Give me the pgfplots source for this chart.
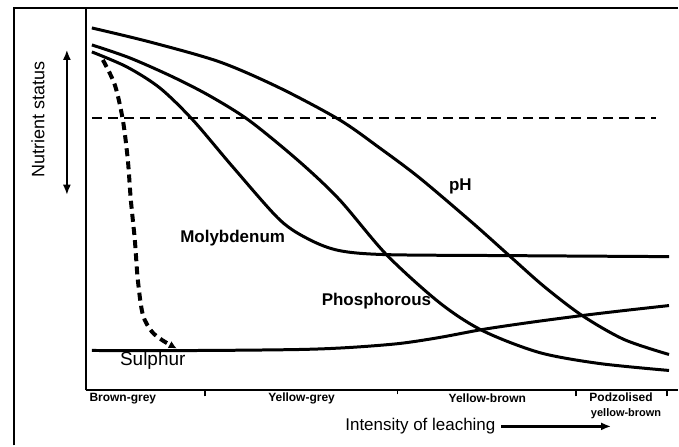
\documentclass[border=0pt]{standalone}
\usepackage{pgfplots}
\pgfplotsset{compat=1.18}
\usepackage{fontspec}
\setmainfont{Liberation Sans}
\usetikzlibrary{arrows.meta}

\pgfplotstableread{
x y
92 418
150 404
220 384
280 358
340 326
380 298
420 268
473 223
510 190
545 159
583 130
625 106
670 91
}\pH
\pgfplotstableread{
x y
92 401
130 388
173 369
210 350
250 325
300 284
340 246
387 191
440 143
483 115
540 93
600 82
670 75
}\phos
\pgfplotstableread{
x y
92 394
127 379
160 358
193 326
233 279
280 226
310 206
340 195
387 191
510 190
670 189
}\moly
\pgfplotstableread{
x y
103 386
115 361
123 326
128 286
131 246
135 206
138 166
143 131
152 114
163 105
177 97
}\sulfdrop
\pgfplotstableread{
x y
92 95
200 95
300 96
350 98
400 102
440 108
483 116
530 123
583 130
625 135
670 140
}\sulf

\pgfplotsset{curve/.style={black, line width=1.5pt, smooth, no markers}}

\begin{document}
\begin{tikzpicture}
\begin{axis}[
  scale only axis,
  width=296.5pt, height=191.5pt,
  xmin=86, xmax=679, ymin=55, ymax=438,
  axis x line=bottom, axis y line=left,
  axis line style={line width=1pt, -},
  ytick=\empty,
  xtick={205,577,668}, xticklabels={},
  extra x ticks={398}, extra x tick labels={},
  extra x tick style={major tick length=2pt, tick style={line width=0.4pt}},
  tick align=outside,
  major tick length=3pt,
  tick style={line width=1pt, black},
  clip=false,
]
% page frame of the figure
\path (axis cs:0,0) rectangle (axis cs:679,446);
\draw[line width=1pt] (axis cs:14,0) -- (axis cs:14,438) -- (axis cs:679,438);

\addplot[curve] table {\pH};
\addplot[curve] table {\phos};
\addplot[curve] table {\moly};
\addplot[curve] table {\sulf};
\addplot[curve, line width=2pt, dash pattern=on 4pt off 2.6pt, -{Latex[length=4pt,width=4pt]}] table {\sulfdrop};
\addplot[black, line width=0.7pt, dash pattern=on 5pt off 3pt] coordinates {(92,328) (657,328)};

\node[font=\bfseries\fontsize{8.5}{10}\selectfont] at (axis cs:461,259) {pH};
\node[font=\bfseries\fontsize{8.5}{10}\selectfont] at (axis cs:233,208) {Molybdenum};
\node[font=\bfseries\fontsize{8.5}{10}\selectfont] at (axis cs:377,144) {Phosphorous};
\node[font=\fontsize{9.5}{10}\selectfont] at (axis cs:153,85) {Sulphur};

\node[font=\fontsize{9}{10}\selectfont, rotate=90] at (axis cs:38,326) {Nutrient status};
\draw[line width=0.8pt, {Latex[length=5pt,width=4pt]}-{Latex[length=5pt,width=4pt]}] (axis cs:67,396) -- (axis cs:67,251);

\node[font=\bfseries\fontsize{6}{6}\selectfont] at (axis cs:123,47) {Brown-grey};
\node[font=\bfseries\fontsize{6}{6}\selectfont] at (axis cs:302,47) {Yellow-grey};
\node[font=\bfseries\fontsize{6}{6}\selectfont] at (axis cs:488,47) {Yellow-brown};
\node[font=\bfseries\fontsize{6}{6}\selectfont] at (axis cs:622,48) {Podzolised};
\node[font=\bfseries\fontsize{5.5}{6}\selectfont] at (axis cs:627,32) {yellow-brown};

\node[font=\fontsize{8.5}{10}\selectfont] at (axis cs:421,19) {Intensity of leaching};
\draw[line width=1.2pt, -{Latex[length=5pt,width=4pt]}] (axis cs:502,19) -- (axis cs:612,19);
\end{axis}
\end{tikzpicture}
\end{document}
